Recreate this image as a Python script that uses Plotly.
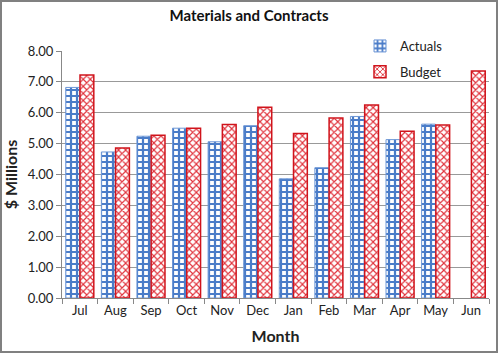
import plotly.graph_objects as go

months = ["Jul", "Aug", "Sep", "Oct", "Nov", "Dec", "Jan", "Feb", "Mar", "Apr", "May", "Jun"]
actuals = [6.82, 4.73, 5.24, 5.50, 5.06, 5.58, 3.86, 4.22, 5.88, 5.13, 5.63, None]
budget = [7.22, 4.86, 5.27, 5.50, 5.62, 6.18, 5.33, 5.83, 6.25, 5.40, 5.60, 7.35]

FONT = "Lato, Calibri, sans-serif"
W, H = 498, 353
L, R, T, B = 62, 9, 51, 55
pw = W - L - R
ph = H - T - B

fig = go.Figure()
fig.add_trace(go.Bar(
    x=months, y=actuals, name="Actuals", legendgroup="a",
    marker=dict(color="white", line=dict(color="#6d97d6", width=1),
                pattern=dict(shape="+", fgcolor="#4a7cc8", bgcolor="white", fgopacity=1,
                             size=6, solidity=0.6, fillmode="overlay")),
))
fig.add_trace(go.Bar(
    x=months, y=budget, name="Budget", legendgroup="b",
    marker=dict(color="white", line=dict(color="#d0141c", width=1.5),
                pattern=dict(shape="x", fgcolor="#e0303a", bgcolor="white", fgopacity=1,
                             size=5, solidity=0.4, fillmode="overlay")),
))

fig.update_layout(
    width=W, height=H,
    margin=dict(l=L, r=R, t=T, b=B),
    paper_bgcolor="white", plot_bgcolor="white",
    barmode="group", bargap=0.2, bargroupgap=0.03,
    font=dict(family=FONT, size=12, color="#222"),
    title=dict(text="<b>Materials and Contracts</b>", x=0.5, xanchor="center",
               y=1 - 16 / H, yanchor="middle", font=dict(size=15, family=FONT, color="#111")),
    legend=dict(x=(360 - L) / pw, y=1 + (T - 31) / ph, xanchor="left", yanchor="top",
                bgcolor="rgba(0,0,0,0)", font=dict(size=13, family=FONT),
                tracegroupgap=6, itemwidth=30),
    xaxis=dict(title=dict(text="<b>Month</b>", font=dict(size=16, family=FONT), standoff=14),
               showline=True, linecolor="#888", linewidth=1,
               ticks="outside", tickson="boundaries", ticklen=5, tickcolor="#888",
               tickfont=dict(size=13)),
    yaxis=dict(title=dict(text="<b>$ Millions</b>", font=dict(size=16, family=FONT), standoff=6),
               range=[0, 8], dtick=1, tickformat=".2f",
               showline=True, linecolor="#888", linewidth=1,
               ticks="outside", ticklen=5, tickcolor="#888",
               gridcolor="#999", gridwidth=1, zeroline=False,
               tickfont=dict(size=13)),
    shapes=[dict(type="rect", xref="paper", yref="paper",
                 x0=(1 - L) / pw, x1=(W - 1 - L) / pw,
                 y0=-(B - 1) / ph, y1=1 + (T - 1) / ph,
                 line=dict(color="#808080", width=2))],
)

fig.write_html("out.html")
